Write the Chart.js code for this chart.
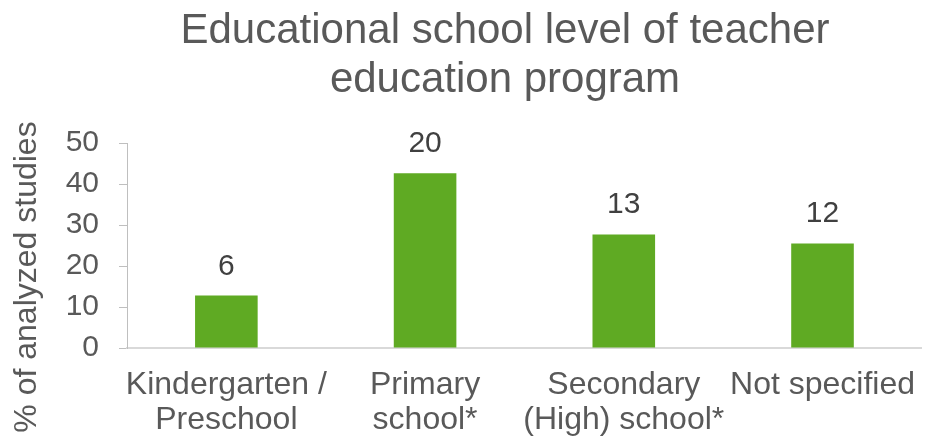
<!DOCTYPE html>
<html>
<head>
<meta charset="utf-8">
<script src="https://cdn.jsdelivr.net/npm/chart.js@4"></script>
<style>
  html, body { margin: 0; padding: 0; background: #fff; }
  #wrap { width: 927px; height: 440px; }
</style>
</head>
<body>
<div id="wrap"><canvas id="level_chart"></canvas></div>
<script>
// Data

const categories = [
    ['Kindergarten /', 'Preschool'],
    ['Primary', 'school*'],
    ['Secondary', '(High) school*'],
    'Not specified'
];
const percent_values = [12.8, 42.6, 27.7, 25.5];
const study_counts = [6, 20, 13, 12];
const chart_title = ['Educational school level of teacher', 'education program'];
const y_title = '% of analyzed studies';

const font = '"Liberation Sans", Arial, sans-serif';

// Title, y axis title and the counts on top of the bars are drawn by hand
// so they sit where the original puts them

const extraText = {
    id: 'extraText',
    afterDatasetsDraw(chart) {
        const ctx = chart.ctx;
        const meta = chart.getDatasetMeta(0);
        ctx.save();

        ctx.font = '30px ' + font;
        ctx.fillStyle = '#404040';
        ctx.textAlign = 'center';
        ctx.textBaseline = 'alphabetic';
        meta.data.forEach((bar, i) => {
            ctx.fillText(study_counts[i], bar.x, bar.y - 21);
        });

        ctx.font = '42px ' + font;
        ctx.fillStyle = '#595959';
        chart_title.forEach((line, i) => {
            ctx.fillText(line, 505, 43 + i * 49);
        });

        ctx.translate(27, 277);
        ctx.rotate(-Math.PI / 2);
        ctx.font = '32px ' + font;
        ctx.textBaseline = 'middle';
        ctx.fillText(y_title, 0, 0);
        ctx.restore();
    }
};

const level_chart = new Chart(document.getElementById('level_chart'), {
    type: 'bar',
    data: {
        labels: categories,
        datasets: [{
            data: percent_values,
            backgroundColor: '#5FAA23',
            barPercentage: 0.63,
            categoryPercentage: 0.5
        }]
    },
    options: {
        responsive: true,
        maintainAspectRatio: false,
        animation: false,
        layout: { padding: { top: 143, right: 0, bottom: 0, left: 0 } },
        plugins: {
            legend: { display: false },
            tooltip: { enabled: false },
            title: { display: false }
        },
        scales: {
            x: {
                grid: { display: false },
                border: { color: '#d9d9d9', width: 2 },
                ticks: {
                    color: '#595959',
                    font: { family: font, size: 32, lineHeight: 1.09 },
                    padding: 12,
                    maxRotation: 0,
                    autoSkip: false
                },
                afterFit(axis) { axis.height = 92; }
            },
            y: {
                min: 0,
                max: 50,
                grid: {
                    display: true,
                    drawOnChartArea: false,
                    tickLength: 8,
                    color: '#bfbfbf'
                },
                border: { color: '#bfbfbf', width: 1 },
                ticks: {
                    stepSize: 10,
                    autoSkip: false,
                    color: '#595959',
                    font: { family: font, size: 30 },
                    padding: 20
                },
                afterFit(axis) { axis.width = 127; }
            }
        }
    },
    plugins: [extraText]
});
</script>
</body>
</html>
